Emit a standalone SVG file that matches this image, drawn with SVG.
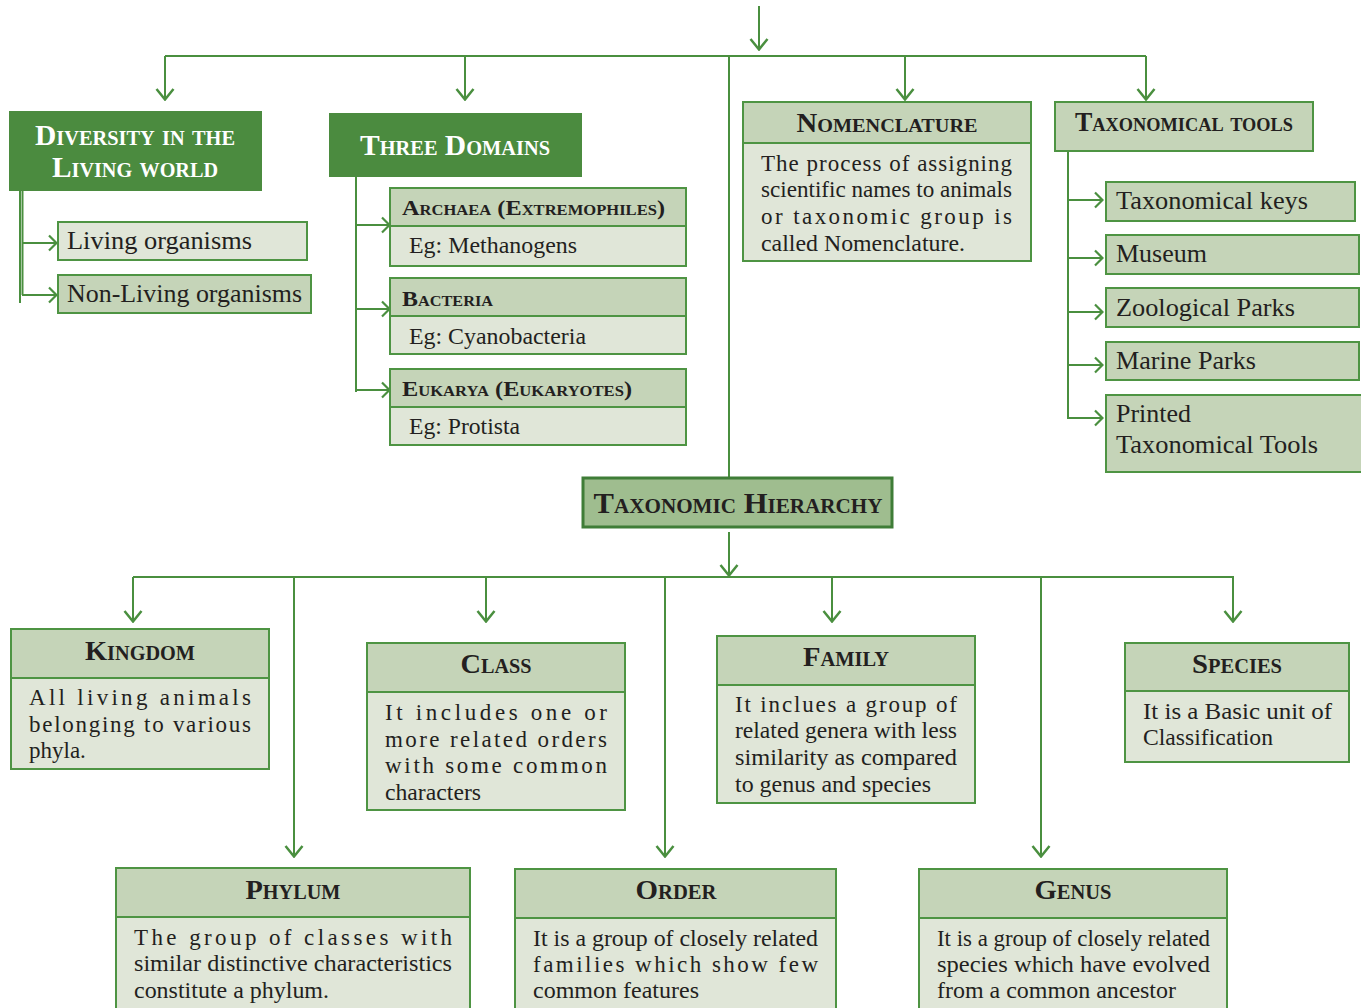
<svg xmlns="http://www.w3.org/2000/svg" width="1361" height="1008" viewBox="0 0 1361 1008">
  <style>
    text { font-family: "Liberation Serif", "Times New Roman", serif; fill: #231f20; }
    .sc { font-weight: bold; font-variant: small-caps; }
    .scw { font-weight: bold; font-variant: small-caps; fill: #ffffff; }
    .dark { fill: #4b8b3f; stroke: #4b8b3f; stroke-width: 2; }
    .head { fill: #c5d4b8; stroke: #4e9443; stroke-width: 2; }
    .body { fill: #e0e6d8; stroke: #4e9443; stroke-width: 2; }
    .hier { fill: #9fbd8f; stroke: #3f7d37; stroke-width: 3; }
    .item { font-size: 26px; }
    .txt { font-size: 23px; }
    .wire { fill: none; stroke: #4a8f3f; stroke-width: 2; }
  </style>
  <defs>
    <marker id="arrow" viewBox="0 0 13 20" refX="12" refY="10" markerWidth="13" markerHeight="20" markerUnits="userSpaceOnUse" orient="auto">
      <path d="M1,1.5 L11.5,10 L1,18.5" fill="none" stroke="#4a8f3f" stroke-width="2.5"/>
    </marker>
    <marker id="arrow-s" viewBox="0 0 10 18" refX="9" refY="9" markerWidth="10" markerHeight="18" markerUnits="userSpaceOnUse" orient="auto">
      <path d="M1,1.5 L8.5,9 L1,16.5" fill="none" stroke="#4a8f3f" stroke-width="2.2"/>
    </marker>
  </defs>

  <!-- connectors -->
  <g id="connectors" class="wire">
    <!-- top trunk -->
    <path d="M759,6 V50" marker-end="url(#arrow)"/>
    <path d="M165,56 H1146"/>
    <path d="M165,56 V100" marker-end="url(#arrow)"/>
    <path d="M465,56 V100" marker-end="url(#arrow)"/>
    <path d="M905,56 V100" marker-end="url(#arrow)"/>
    <path d="M1146,56 V100" marker-end="url(#arrow)"/>
    <path d="M729,56 V477"/>

    <!-- diversity branches -->
    <path d="M20,191 V303"/>
    <path d="M22.5,191 V295"/>
    <path d="M22,243 H57" marker-end="url(#arrow-s)"/>
    <path d="M22,295 H57" marker-end="url(#arrow-s)"/>

    <!-- three domains branches -->
    <path d="M356,177 V392"/>
    <path d="M356,225 H390" marker-end="url(#arrow-s)"/>
    <path d="M356,309 H390" marker-end="url(#arrow-s)"/>
    <path d="M356,390 H390" marker-end="url(#arrow-s)"/>

    <!-- taxonomical tools branches -->
    <path d="M1068,152 V419"/>
    <path d="M1068,200 H1103" marker-end="url(#arrow-s)"/>
    <path d="M1068,258 H1103" marker-end="url(#arrow-s)"/>
    <path d="M1068,312 H1103" marker-end="url(#arrow-s)"/>
    <path d="M1068,365 H1103" marker-end="url(#arrow-s)"/>
    <path d="M1068,418 H1103" marker-end="url(#arrow-s)"/>

    <!-- hierarchy -->
    <path d="M729,532 V576" marker-end="url(#arrow)"/>
    <path d="M133,577 H1234"/>
    <path d="M133,577 V622" marker-end="url(#arrow)"/>
    <path d="M486,577 V622" marker-end="url(#arrow)"/>
    <path d="M832,577 V622" marker-end="url(#arrow)"/>
    <path d="M1233,577 V622" marker-end="url(#arrow)"/>
    <path d="M294,577 V857" marker-end="url(#arrow)"/>
    <path d="M665,577 V857" marker-end="url(#arrow)"/>
    <path d="M1041,577 V857" marker-end="url(#arrow)"/>
  </g>

  <!-- Diversity in the living world -->
  <g id="diversity">
    <rect class="dark" x="10" y="112" width="251" height="78"/>
    <text class="scw" x="135" y="145" font-size="29" text-anchor="middle" textLength="200" lengthAdjust="spacingAndGlyphs">Diversity in the</text>
    <text class="scw" x="135" y="177" font-size="29" text-anchor="middle" textLength="166" lengthAdjust="spacingAndGlyphs">Living world</text>
  </g>
  <g id="living">
    <rect class="body" x="58" y="222" width="249" height="38"/>
    <text class="item" x="67" y="249" textLength="185" lengthAdjust="spacingAndGlyphs">Living organisms</text>
  </g>
  <g id="non-living">
    <rect class="head" x="58" y="275" width="253" height="38"/>
    <text class="item" x="67" y="302" textLength="235" lengthAdjust="spacingAndGlyphs">Non-Living organisms</text>
  </g>

  <!-- Three domains -->
  <g id="three-domains">
    <rect class="dark" x="330" y="114" width="251" height="62"/>
    <text class="scw" x="455" y="155" font-size="29" text-anchor="middle" textLength="190" lengthAdjust="spacingAndGlyphs">Three Domains</text>
  </g>
  <g id="archaea">
    <rect class="head" x="390" y="188" width="296" height="38"/>
    <rect class="body" x="390" y="226" width="296" height="40"/>
    <text class="sc" x="402" y="215" font-size="22" textLength="263" lengthAdjust="spacingAndGlyphs">Archaea (Extremophiles)</text>
    <text class="txt" x="409" y="253" textLength="168" lengthAdjust="spacingAndGlyphs">Eg: Methanogens</text>
  </g>
  <g id="bacteria">
    <rect class="head" x="390" y="278" width="296" height="38"/>
    <rect class="body" x="390" y="316" width="296" height="38"/>
    <text class="sc" x="402" y="306" font-size="22" textLength="91" lengthAdjust="spacingAndGlyphs">Bacteria</text>
    <text class="txt" x="409" y="344" textLength="177" lengthAdjust="spacingAndGlyphs">Eg: Cyanobacteria</text>
  </g>
  <g id="eukarya">
    <rect class="head" x="390" y="369" width="296" height="38"/>
    <rect class="body" x="390" y="407" width="296" height="38"/>
    <text class="sc" x="402" y="396" font-size="22" textLength="230" lengthAdjust="spacingAndGlyphs">Eukarya (Eukaryotes)</text>
    <text class="txt" x="409" y="434" textLength="111" lengthAdjust="spacingAndGlyphs">Eg: Protista</text>
  </g>

  <!-- Nomenclature -->
  <g id="nomenclature">
    <rect class="body" x="743" y="102" width="288" height="159"/>
    <rect class="head" x="743" y="102" width="288" height="41"/>
    <text class="sc" x="887" y="132" font-size="27" text-anchor="middle" textLength="181" lengthAdjust="spacingAndGlyphs">Nomenclature</text>
    <text class="txt" x="761" y="171" textLength="251" lengthAdjust="spacing">The process of assigning</text>
    <text class="txt" x="761" y="197" textLength="251" lengthAdjust="spacingAndGlyphs">scientific names to animals</text>
    <text class="txt" x="761" y="224" textLength="251" lengthAdjust="spacing">or taxonomic group is</text>
    <text class="txt" x="761" y="251" textLength="204" lengthAdjust="spacingAndGlyphs">called Nomenclature.</text>
  </g>

  <!-- Taxonomical tools -->
  <g id="taxonomical-tools">
    <rect class="head" x="1055" y="102" width="258" height="49"/>
    <text class="sc" x="1184" y="131" font-size="27" text-anchor="middle" textLength="218" lengthAdjust="spacingAndGlyphs">Taxonomical tools</text>
  </g>
  <g id="taxonomical-keys">
    <rect class="head" x="1106" y="182" width="249" height="39"/>
    <text class="item" x="1116" y="209" textLength="192" lengthAdjust="spacingAndGlyphs">Taxonomical keys</text>
  </g>
  <g id="museum">
    <rect class="head" x="1106" y="235" width="253" height="39"/>
    <text class="item" x="1116" y="262" textLength="91" lengthAdjust="spacingAndGlyphs">Museum</text>
  </g>
  <g id="zoological-parks">
    <rect class="head" x="1106" y="288" width="253" height="39"/>
    <text class="item" x="1116" y="316" textLength="179" lengthAdjust="spacingAndGlyphs">Zoological Parks</text>
  </g>
  <g id="marine-parks">
    <rect class="head" x="1106" y="342" width="253" height="38"/>
    <text class="item" x="1116" y="369" textLength="140" lengthAdjust="spacingAndGlyphs">Marine Parks</text>
  </g>
  <g id="printed-tools">
    <rect class="head" x="1106" y="395" width="258" height="77"/>
    <text class="item" x="1116" y="422" textLength="75" lengthAdjust="spacingAndGlyphs">Printed</text>
    <text class="item" x="1116" y="453" textLength="202" lengthAdjust="spacingAndGlyphs">Taxonomical Tools</text>
  </g>

  <!-- Taxonomic hierarchy -->
  <g id="taxonomic-hierarchy">
    <rect class="hier" x="583" y="478" width="309" height="49"/>
    <text class="sc" x="738" y="513" font-size="29" text-anchor="middle" textLength="289" lengthAdjust="spacingAndGlyphs">Taxonomic Hierarchy</text>
  </g>

  <g id="kingdom">
    <rect class="body" x="11" y="629" width="258" height="140"/>
    <rect class="head" x="11" y="629" width="258" height="49"/>
    <text class="sc" x="140" y="660" font-size="28" text-anchor="middle" textLength="110" lengthAdjust="spacingAndGlyphs">Kingdom</text>
    <text class="txt" x="29" y="705" textLength="222" lengthAdjust="spacing">All living animals</text>
    <text class="txt" x="29" y="732" textLength="222" lengthAdjust="spacing">belonging to various</text>
    <text class="txt" x="29" y="758">phyla.</text>
  </g>

  <g id="class">
    <rect class="body" x="367" y="643" width="258" height="167"/>
    <rect class="head" x="367" y="643" width="258" height="49"/>
    <text class="sc" x="496" y="673" font-size="28" text-anchor="middle" textLength="71" lengthAdjust="spacingAndGlyphs">Class</text>
    <text class="txt" x="385" y="720" textLength="222" lengthAdjust="spacing">It includes one or</text>
    <text class="txt" x="385" y="747" textLength="222" lengthAdjust="spacing">more related orders</text>
    <text class="txt" x="385" y="773" textLength="222" lengthAdjust="spacing">with some common</text>
    <text class="txt" x="385" y="800" textLength="96" lengthAdjust="spacingAndGlyphs">characters</text>
  </g>

  <g id="family">
    <rect class="body" x="717" y="636" width="258" height="167"/>
    <rect class="head" x="717" y="636" width="258" height="49"/>
    <text class="sc" x="846" y="666" font-size="28" text-anchor="middle" textLength="86" lengthAdjust="spacingAndGlyphs">Family</text>
    <text class="txt" x="735" y="712" textLength="222" lengthAdjust="spacing">It inclues a group of</text>
    <text class="txt" x="735" y="738" textLength="222" lengthAdjust="spacingAndGlyphs">related genera with less</text>
    <text class="txt" x="735" y="765" textLength="222" lengthAdjust="spacingAndGlyphs">similarity as compared</text>
    <text class="txt" x="735" y="792" textLength="196" lengthAdjust="spacingAndGlyphs">to genus and species</text>
  </g>

  <g id="species">
    <rect class="body" x="1125" y="643" width="224" height="119"/>
    <rect class="head" x="1125" y="643" width="224" height="48"/>
    <text class="sc" x="1237" y="673" font-size="28" text-anchor="middle" textLength="90" lengthAdjust="spacingAndGlyphs">Species</text>
    <text class="txt" x="1143" y="719" textLength="189" lengthAdjust="spacingAndGlyphs">It is  a Basic unit of</text>
    <text class="txt" x="1143" y="745" textLength="130" lengthAdjust="spacingAndGlyphs">Classification</text>
  </g>

  <g id="phylum">
    <rect class="body" x="116" y="868" width="354" height="150"/>
    <rect class="head" x="116" y="868" width="354" height="49"/>
    <text class="sc" x="293" y="899" font-size="28" text-anchor="middle" textLength="95" lengthAdjust="spacingAndGlyphs">Phylum</text>
    <text class="txt" x="134" y="945" textLength="318" lengthAdjust="spacing">The group of classes with</text>
    <text class="txt" x="134" y="971" textLength="318" lengthAdjust="spacingAndGlyphs">similar distinctive characteristics</text>
    <text class="txt" x="134" y="998" textLength="195" lengthAdjust="spacingAndGlyphs">constitute a phylum.</text>
  </g>

  <g id="order">
    <rect class="body" x="515" y="869" width="321" height="150"/>
    <rect class="head" x="515" y="869" width="321" height="49"/>
    <text class="sc" x="676" y="899" font-size="28" text-anchor="middle" textLength="81" lengthAdjust="spacingAndGlyphs">Order</text>
    <text class="txt" x="533" y="946" textLength="285" lengthAdjust="spacingAndGlyphs">It is a group of closely related</text>
    <text class="txt" x="533" y="972" textLength="285" lengthAdjust="spacing">families which show few</text>
    <text class="txt" x="533" y="998" textLength="166" lengthAdjust="spacingAndGlyphs">common features</text>
  </g>

  <g id="genus">
    <rect class="body" x="919" y="869" width="308" height="150"/>
    <rect class="head" x="919" y="869" width="308" height="49"/>
    <text class="sc" x="1073" y="899" font-size="28" text-anchor="middle" textLength="77" lengthAdjust="spacingAndGlyphs">Genus</text>
    <text class="txt" x="937" y="946" textLength="273" lengthAdjust="spacingAndGlyphs">It is a group of closely related</text>
    <text class="txt" x="937" y="972" textLength="273" lengthAdjust="spacingAndGlyphs">species which have evolved</text>
    <text class="txt" x="937" y="998" textLength="239" lengthAdjust="spacingAndGlyphs">from a common ancestor</text>
  </g>
</svg>
